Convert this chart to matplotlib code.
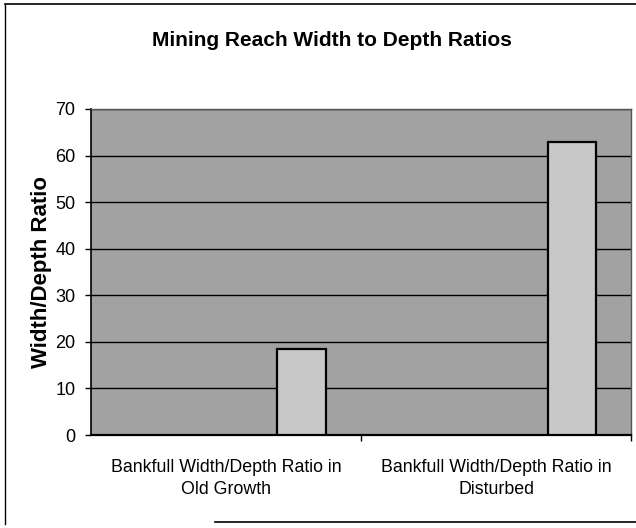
import matplotlib
matplotlib.use("Agg")
import matplotlib.pyplot as plt
from matplotlib.lines import Line2D

# Data
categories = ["Bankfull Width/Depth Ratio in\nOld Growth",
              "Bankfull Width/Depth Ratio in\nDisturbed"]
ratios = [18.5, 63.0]
y_ticks = [0, 10, 20, 30, 40, 50, 60, 70]

title = "Mining Reach Width to Depth Ratios"
y_label = "Width/Depth Ratio"

plt.rcParams["font.family"] = ["Liberation Sans", "DejaVu Sans"]

fig = plt.figure(figsize=(6.36, 5.28), dpi=100)
ax = fig.add_axes([0.1426, 0.1761, 0.850, 0.6175])

# plot area
ax.set_facecolor("#a2a2a2")
ax.set_axisbelow(True)
ax.yaxis.grid(True, color="black", linewidth=1.0)

# bars sit to the right of each category slot
offset = 0.28
bar_w = 0.18
xs = [i + offset for i in range(len(categories))]
ax.bar(xs, ratios, width=bar_w, color="#c8c8c8", edgecolor="black",
       linewidth=1.6, zorder=3)

ax.set_xlim(-0.5, len(categories) - 0.5)
ax.set_ylim(0, 70)
ax.set_yticks(y_ticks)
ax.set_yticklabels([str(t) for t in y_ticks], fontsize=13)
ax.set_xticks(range(len(categories)))
ax.set_xticklabels(categories, fontsize=12.8, linespacing=1.4)
ax.tick_params(axis="x", length=0, pad=17)
ax.tick_params(axis="y", length=4, width=1, pad=7)

# category boundary ticks
ax.set_xticks([0.5, 1.5], minor=True)
ax.tick_params(axis="x", which="minor", length=4, width=1, direction="out")

for side in ["top", "right"]:
    ax.spines[side].set_color("#555555")
    ax.spines[side].set_linewidth(1.0)
ax.spines["left"].set_linewidth(1.2)
ax.spines["bottom"].set_linewidth(1.6)

ax.set_ylabel(y_label, fontsize=16, fontweight="bold", labelpad=2)

fig.text(0.522, 0.924, title, ha="center", va="center",
         fontsize=15, fontweight="bold")

# outer chart border
fig.add_artist(Line2D([5 / 636, 5 / 636], [4 / 528, 1 - 4 / 528],
                      transform=fig.transFigure, color="black", linewidth=1.0))
fig.add_artist(Line2D([5 / 636, 1.0], [1 - 4 / 528, 1 - 4 / 528],
                      transform=fig.transFigure, color="black", linewidth=1.2))
fig.add_artist(Line2D([215 / 636, 1.0], [6 / 528, 6 / 528],
                      transform=fig.transFigure, color="black", linewidth=1.2))

fig.savefig("out.png", dpi=100)
